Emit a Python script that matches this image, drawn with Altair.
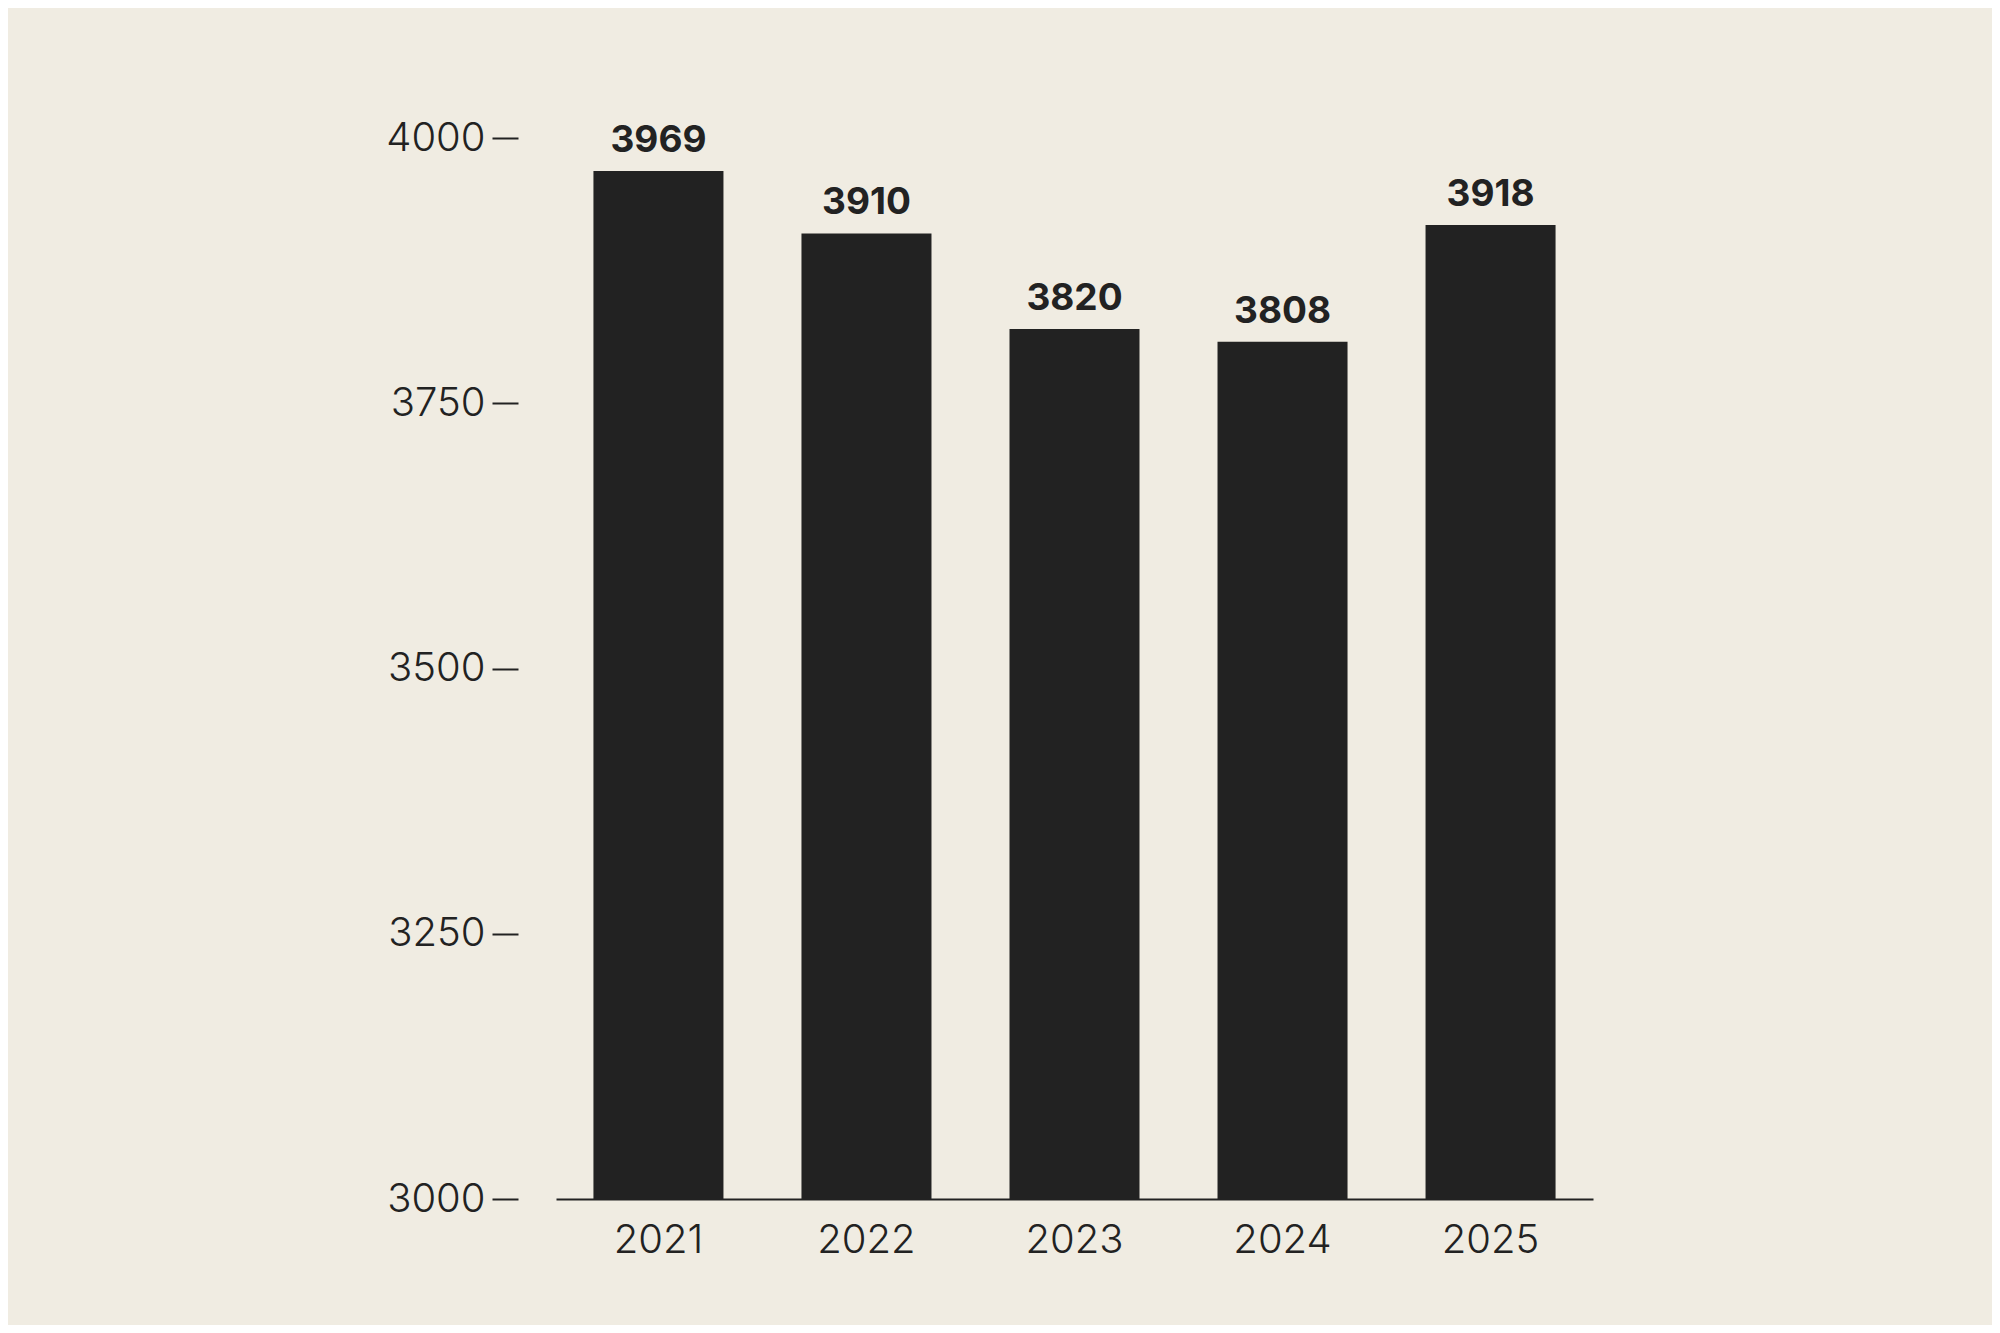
import altair as alt
import pandas as pd

years = ["2021", "2022", "2023", "2024", "2025"]
values = [3969, 3910, 3820, 3808, 3918]
y_ticks = [3000, 3250, 3500, 3750, 4000]
baseline = 3000

df = pd.DataFrame({"year": years, "value": values})

FONT = "Inter"
INK = "#222222"
BG = "#f0ece2"
FS_AXIS = 40
FS_VAL = 37

x = alt.X("year:N", sort=years, title=None,
          scale=alt.Scale(paddingInner=0.375, paddingOuter=0.18),
          axis=alt.Axis(labelAngle=0, ticks=False, domain=True, domainColor=INK,
                        domainWidth=2, labelPadding=21, labelFontSize=FS_AXIS,
                        labelColor=INK, labelFont=FONT, labelFontWeight=300, zindex=1))
y = alt.Y("value:Q", title=None,
          scale=alt.Scale(domain=[3000, 4000], zero=False, nice=False),
          axis=alt.Axis(values=y_ticks, format="d", domain=False, grid=False, ticks=True,
                        tickSize=26, tickWidth=2, tickColor=INK, offset=38,
                        labelPadding=7, labelFontSize=FS_AXIS, labelColor=INK,
                        labelFont=FONT, labelFontWeight=300))

bars = alt.Chart(df).mark_bar(color=INK).encode(x=x, y=y, y2=alt.datum(baseline))
labels = alt.Chart(df).mark_text(baseline="alphabetic", dy=-19, fontSize=FS_VAL,
                                 fontWeight="bold", font=FONT, color=INK).encode(
    x=alt.X("year:N", sort=years), y=alt.Y("value:Q"), text=alt.Text("value:Q"))

chart = (bars + labels).properties(
    width=1037, height=1061,
    background=BG,
    padding={"left": 548, "top": 130, "right": 399, "bottom": 126},
    autosize=alt.AutoSizeParams(type="none"),
).configure_view(stroke=None)

chart.save("out.html", embed_options={"renderer": "svg", "actions": False})
